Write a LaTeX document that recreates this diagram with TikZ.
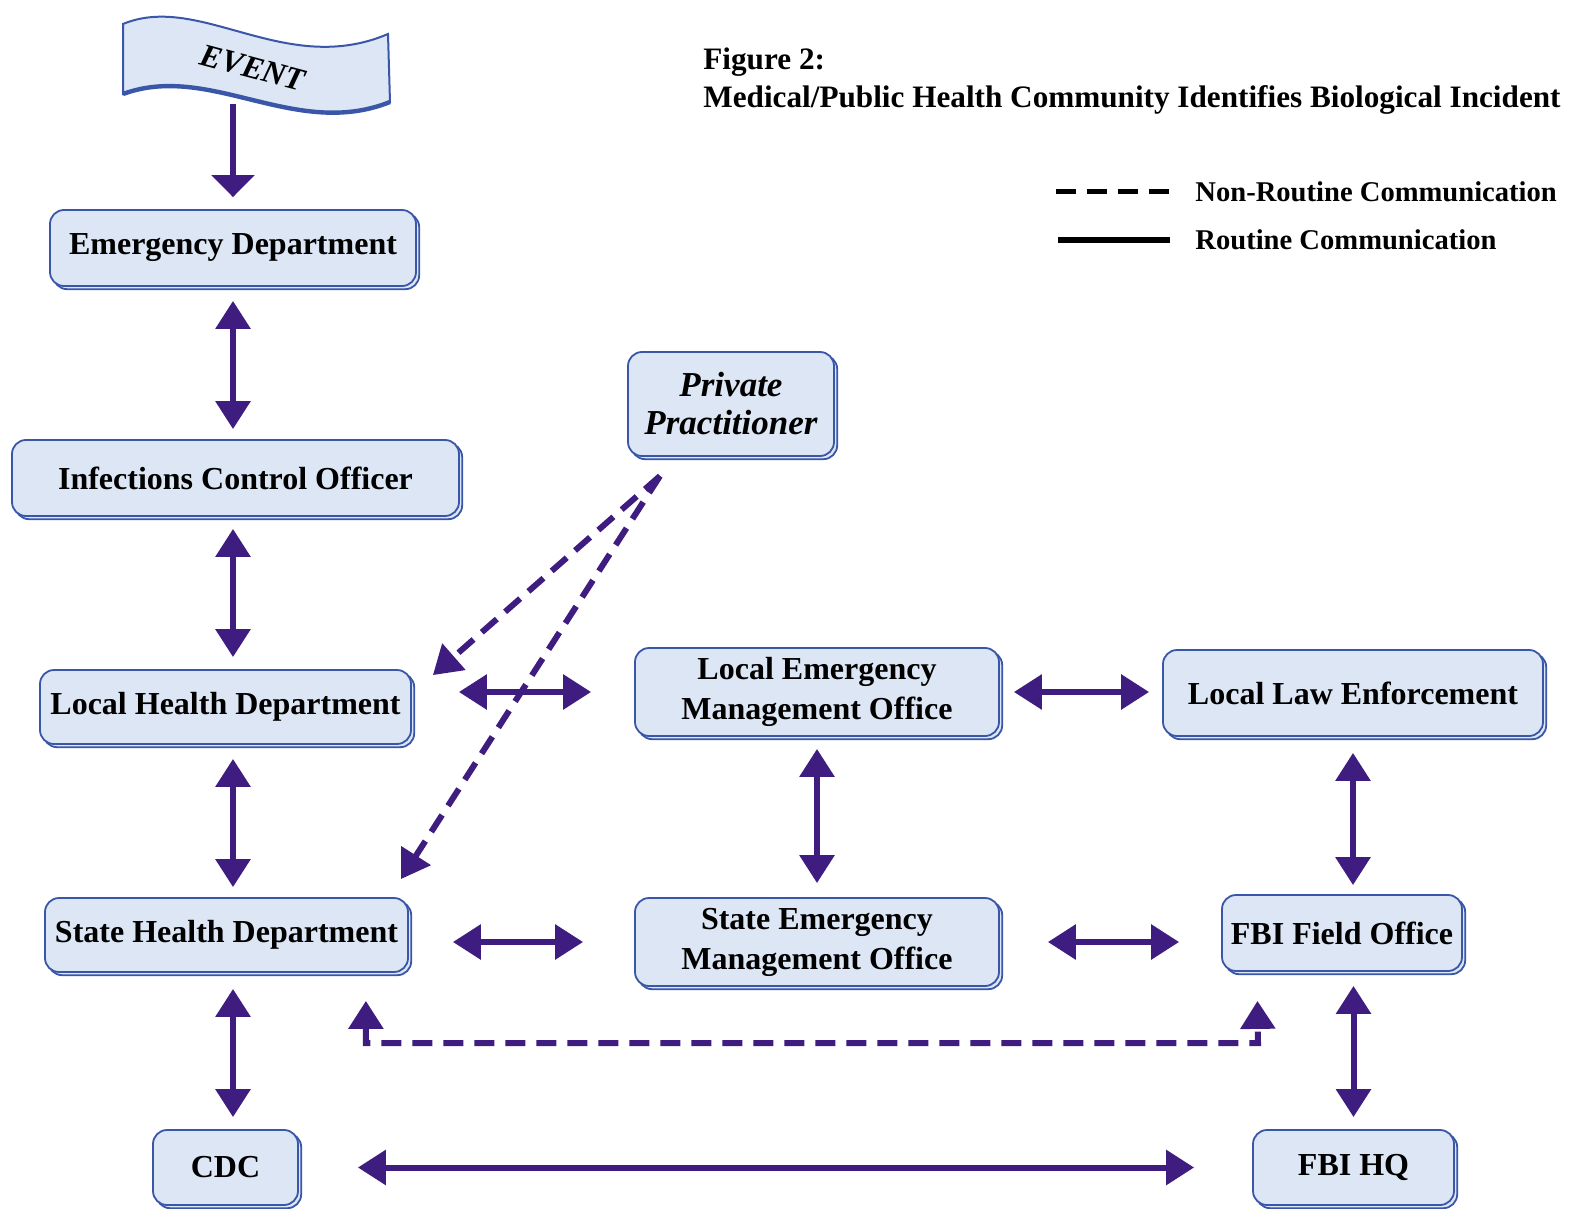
\documentclass[tikz,border=0pt]{standalone}
\usepackage{fontspec}
\setmainfont{Liberation Serif}
\usetikzlibrary{arrows.meta,positioning,shadows,calc}
\definecolor{boxfill}{RGB}{221,230,244}
\definecolor{boxline}{RGB}{58,86,168}
\definecolor{arrc}{RGB}{62,28,128}

\begin{document}
\begin{tikzpicture}[x=0.5pt, y=-0.5pt, %
    box/.style={draw=boxline, fill=boxfill, line width=0.9pt, rounded corners=7pt,
      copy shadow={shadow xshift=1.6pt, shadow yshift=-1.6pt, draw=boxline, fill=boxfill},
      font=\fontsize{16}{20}\selectfont\bfseries, align=center, inner sep=2pt},
    link/.style={draw=arrc, line width=3pt,
      {Triangle[length=14pt,width=17pt]}-{Triangle[length=14pt,width=17pt]}},
    dlink/.style={draw=arrc, line width=3pt, dash pattern=on 10pt off 5.5pt,
      -{Triangle[length=14pt,width=17pt]}},
    ttl/.style={anchor=base west, inner sep=0pt, font=\fontsize{15.6}{19}\selectfont\bfseries},
    lgd/.style={anchor=west, inner sep=0pt, font=\fontsize{14.3}{17}\selectfont\bfseries}
  ]
  \useasboundingbox (0,0) rectangle (1569,1209);

  % event banner
  \path[draw=boxline, fill=boxfill, line width=1pt] (123,24) .. controls (200,-8) and (285,78) .. (388,34)
    -- (390,102) .. controls (295,140) and (210,62) .. (123,94) -- cycle;
  \draw[boxline, line width=2.2pt] (390,102) .. controls (295,140) and (210,62) .. (123,94);
  \node[rotate=-15, font=\fontsize{16}{16}\selectfont\bfseries\itshape] (event) at (253,68) {EVENT};
  \coordinate (eventfoot) at (233,104);

  % title and legend
  \node[ttl] (fig) at (703,70) {Figure 2:};
  \node[ttl] (caption) at (703,108) {Medical/Public Health Community Identifies Biological Incident};
  \node[lgd] (nonroutine) at (1195,192) {Non-Routine Communication};
  \node[lgd] (routine) at (1195,240) {Routine Communication};
  \draw[black, line width=2.5pt, dash pattern=on 10pt off 5.5pt]
    ([xshift=-69.5pt]nonroutine.west) -- ([xshift=-13pt]nonroutine.west);
  \draw[black, line width=3.2pt] ([xshift=-68.5pt]routine.west) -- ([xshift=-12.5pt]routine.west);

  % left column
  \node[box, minimum width=183pt, minimum height=38pt] (ed) at (233,248) {Emergency Department};
  \node[box, minimum width=223.5pt, minimum height=38pt] (ico) at (235.5,478) {Infections Control Officer};
  \node[box, minimum width=185.5pt, minimum height=37pt] (lhd) at (225.5,707) {Local Health Department};
  \node[box, minimum width=181.5pt, minimum height=37pt] (shd) at (226.5,935) {State Health Department};
  \node[box, minimum width=72.5pt, minimum height=37.5pt] (cdc) at (225.5,1167.5) {CDC};

  % middle and right
  \node[box, minimum width=103pt, minimum height=52pt,
    font=\fontsize{17.5}{19}\selectfont\bfseries\itshape] (pp) at (731,404) {Private\\Practitioner};
  \node[box, minimum width=182pt, minimum height=44pt] (lemo) at (817,692) {Local Emergency\\Management Office};
  \node[box, minimum width=190pt, minimum height=43pt] (lle) at (1353,693) {Local Law Enforcement};
  \node[box, minimum width=182pt, minimum height=44pt] (semo) at (817,942) {State Emergency\\Management Office};
  \node[box, minimum width=120pt, minimum height=38pt] (fbifo) at (1342,933) {FBI Field Office};
  \node[box, minimum width=100.5pt, minimum height=37.5pt] (fbihq) at (1353.5,1167.5) {FBI HQ};

  % routine links
  \draw[arrc, line width=3pt, -{Triangle[length=11pt,width=21pt]}, shorten >=6pt] (eventfoot) -- (eventfoot |- ed.north);
  \draw[link, shorten <=7pt, shorten >=5pt] (ed.south) -- (ico.north -| ed.south);
  \draw[link, shorten <=6pt, shorten >=6pt] (ico.south -| ed.south) -- (lhd.north -| ed.south);
  \draw[link, shorten <=7pt, shorten >=5pt] (lhd.south -| ed.south) -- (shd.north -| ed.south);
  \draw[link, shorten <=8pt, shorten >=6pt] (shd.south -| ed.south) -- (cdc.north -| ed.south);
  \draw[link, shorten <=6pt, shorten >=7pt] (lemo.south) -- (lemo.south |- semo.north);
  \draw[link, shorten <=8pt, shorten >=4.5pt] (lle.south) -- (lle.south |- fbifo.north);
  \draw[link, shorten <=7pt, shorten >=6pt] (fbihq.north |- fbifo.south) -- (fbihq.north);
  \draw[link, shorten <=23.5pt, shorten >=21.5pt] (lemo.west -| lhd.east) -- (lemo.west);
  \draw[link, shorten <=7pt, shorten >=6.5pt] (lemo.east) -- (lemo.east -| lle.west);
  \draw[link, shorten <=22pt, shorten >=25.5pt] (semo.west -| shd.east) -- (semo.west);
  \draw[link, shorten <=24pt, shorten >=21pt] (semo.east) -- (semo.east -| fbifo.west);
  \draw[link, shorten <=29.5pt, shorten >=29pt] (cdc.east) -- (cdc.east -| fbihq.west);

  % non-routine links
  \coordinate (ppfoot) at (660,476);
  \draw[dlink] (ppfoot) -- ([shift={(21,6)}]lhd.north east);
  \draw[dlink] (ppfoot) -- ([shift={(-8,-18)}]shd.north east);
  \coordinate (fbibend) at (1258,1043);
  \draw[dlink, {Triangle[length=14pt,width=17pt]}-{Triangle[length=14pt,width=17pt]},
    shorten <=14pt, shorten >=14.5pt] ([xshift=-21.5pt]shd.south east) |- (fbibend) -- ([xshift=18pt]fbifo.south west);
\end{tikzpicture}
\end{document}
